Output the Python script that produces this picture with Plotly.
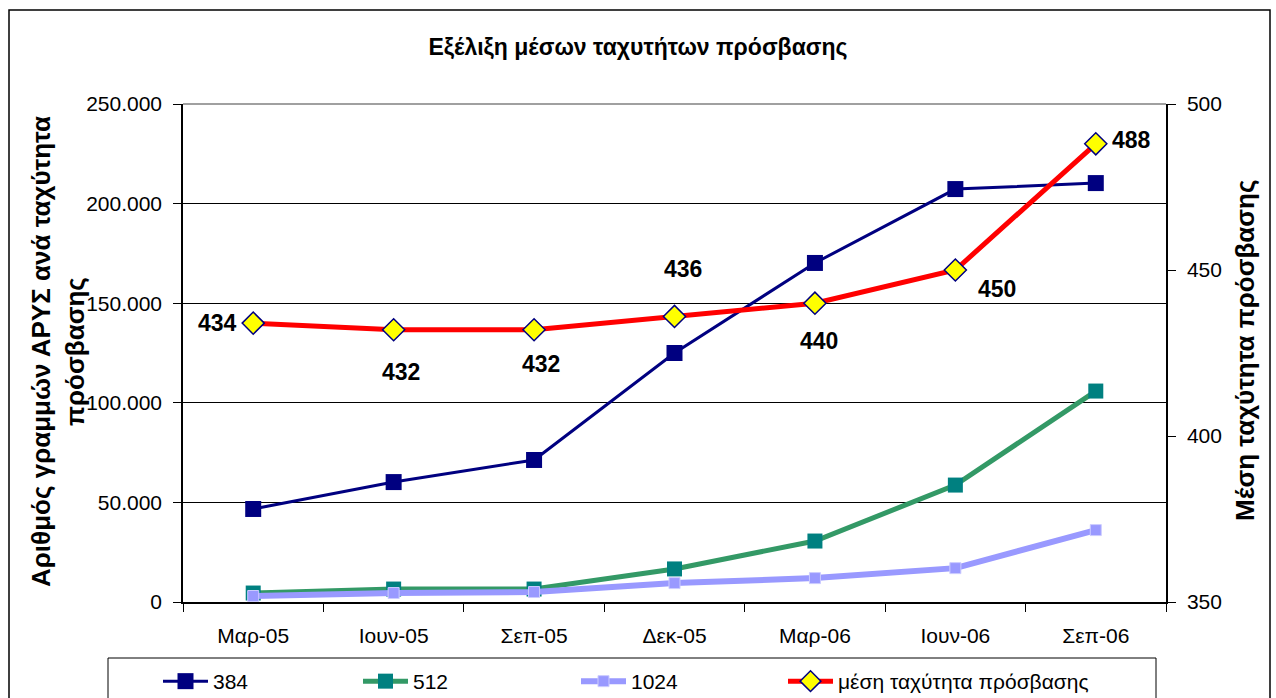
import plotly.graph_objects as go

categories = ["Μαρ-05", "Ιουν-05", "Σεπ-05", "Δεκ-05", "Μαρ-06", "Ιουν-06", "Σεπ-06"]
s384 = [46700, 60200, 71300, 125000, 170200, 207300, 210300]
s512 = [4500, 6500, 6500, 16600, 30600, 58700, 105900]
s1024 = [3000, 4500, 5000, 9500, 12000, 17000, 36100]
avg_speed = [434, 432, 432, 436, 440, 450, 488]
label_shift_x = [-36, 7, 7, 8, 4, 42, 36]
label_shift_y = [0, -42, -34, 47, -38, -19, 4]

FONT = "Liberation Sans, Arial, sans-serif"
L, R, T, B = 183, 110, 104, 96
W, H = 1276, 698
pw, ph = W - L - R, H - T - B

def px_x(p):
    return (p - L) / pw

def px_y(p):
    return (H - B - p) / ph

fig = go.Figure()
fig.add_trace(go.Scatter(x=categories, y=s384, name="384", mode="lines+markers",
                         legend="legend",
                         line=dict(color="#000080", width=3),
                         marker=dict(symbol="square", size=16, color="#000080")))
fig.add_trace(go.Scatter(x=categories, y=s512, name="512", mode="lines+markers",
                         legend="legend2",
                         line=dict(color="#339966", width=5),
                         marker=dict(symbol="square", size=15, color="#008080")))
fig.add_trace(go.Scatter(x=categories, y=s1024, name="1024", mode="lines+markers",
                         legend="legend3",
                         line=dict(color="#9999FF", width=6),
                         marker=dict(symbol="square", size=11, color="#9999FF",
                                     line=dict(color="#CCCCFF", width=1))))
fig.add_trace(go.Scatter(x=categories, y=avg_speed, name="μέση ταχύτητα πρόσβασης",
                         mode="lines+markers", yaxis="y2", legend="legend4",
                         line=dict(color="#FF0000", width=5),
                         marker=dict(symbol="diamond", size=17, color="#FFFF00",
                                     line=dict(color="#000080", width=1.5))))

for c, v, dx, dy in zip(categories, avg_speed, label_shift_x, label_shift_y):
    fig.add_annotation(x=c, y=v, xref="x", yref="y2", text=str(v), showarrow=False,
                       xshift=dx, yshift=dy,
                       font=dict(family=FONT, size=23, color="black", weight="bold"))

# axis titles
fig.add_annotation(x=px_x(58), y=px_y(352), xref="paper", yref="paper",
                   text="Αριθμός γραμμών ΑΡΥΣ ανά ταχύτητα<br>πρόσβασης",
                   textangle=-90, showarrow=False, xanchor="center", yanchor="middle",
                   font=dict(family=FONT, size=26, color="black", weight="bold"))
fig.add_annotation(x=px_x(1245), y=px_y(350), xref="paper", yref="paper",
                   text="Μέση ταχύτητα πρόσβασης",
                   textangle=-90, showarrow=False, xanchor="center", yanchor="middle",
                   font=dict(family=FONT, size=26, color="black", weight="bold"))

# outer frame
fig.add_shape(type="rect", xref="paper", yref="paper",
              x0=px_x(9), x1=px_x(1270), y0=px_y(10), y1=px_y(740),
              line=dict(color="black", width=1.5), layer="below")
# legend box
fig.add_shape(type="rect", xref="paper", yref="paper",
              x0=px_x(108), x1=px_x(1156), y0=px_y(658), y1=px_y(740),
              line=dict(color="black", width=1))
# grey top border of plot area
fig.add_shape(type="line", xref="paper", yref="paper", x0=0, x1=1, y0=1, y1=1,
              line=dict(color="#808080", width=1.5))

def legend_at(px):
    return dict(orientation="h", x=px_x(px), y=px_y(661), xanchor="left", yanchor="top",
                bgcolor="rgba(0,0,0,0)", borderwidth=0, itemwidth=45,
                font=dict(family=FONT, size=21, color="black"))

fig.update_layout(
    width=W, height=H,
    margin=dict(l=L, r=R, t=T, b=B, autoexpand=False),
    paper_bgcolor="white", plot_bgcolor="white",
    separators=",.",
    font=dict(family=FONT, size=21, color="black"),
    title=dict(text="<b>Εξέλιξη μέσων ταχυτήτων πρόσβασης</b>", x=0.5, xref="container",
               y=1 - 47 / H, yanchor="middle", yref="container",
               font=dict(family=FONT, size=23, color="black")),
    xaxis=dict(type="category", range=[-0.5, 6.5], showline=True, linecolor="black",
               linewidth=1.5, ticks="outside", tickson="boundaries", ticklen=8,
               tickcolor="black", showgrid=False, mirror=False, ticklabelstandoff=14,
               tickfont=dict(size=21)),
    yaxis=dict(range=[0, 250000], tickvals=[0, 50000, 100000, 150000, 200000, 250000],
               tickformat=",d", showline=True, linecolor="black", linewidth=1.5,
               ticks="outside", ticklen=8, tickcolor="black", ticklabelstandoff=7,
               showgrid=True, gridcolor="black", gridwidth=1, zeroline=False,
               tickfont=dict(size=21)),
    yaxis2=dict(range=[350, 500], tickvals=[350, 400, 450, 500], overlaying="y", side="right",
                showline=True, linecolor="black", linewidth=1.5, ticks="outside", ticklen=8,
                tickcolor="black", showgrid=False, zeroline=False, ticklabelstandoff=7,
                tickfont=dict(size=21)),
    legend=legend_at(158),
    legend2=legend_at(358),
    legend3=legend_at(576),
    legend4=legend_at(783),
    showlegend=True,
)

fig.write_html("out.html", config={"displayModeBar": False},
               post_script="document.body.style.margin='0';")
